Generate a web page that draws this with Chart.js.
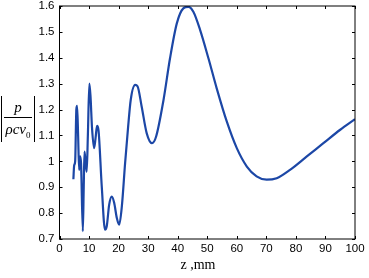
<!DOCTYPE html>
<html>
<head>
<meta charset="utf-8">
<script src="https://cdn.jsdelivr.net/npm/chart.js@4/dist/chart.umd.min.js"></script>
<style>
  body { margin: 0; background: #fff; }
  #wrap { position: relative; width: 369px; height: 278px; }
  #ylab { position: absolute; left: 1px; top: 96px; width: 32px; height: 46px;
          border-left: 1.2px solid #000; border-right: 1.2px solid #000;
          font-family: "Liberation Serif", serif; font-style: italic; font-size: 15px;
          text-align: center; color: #000; }
  #ylab .num { display: block; height: 21px; line-height: 22px; border-bottom: 1px solid #000; margin: 0 2px; }
  #ylab .den { display: block; line-height: 22px; white-space: nowrap; }
  #ylab sub { font-size: 9px; font-style: normal; }
  #xlab { position: absolute; left: 178px; top: 257px; width: 40px; text-align: center;
          font-family: "Liberation Serif", serif; font-size: 14px; color: #000; white-space: nowrap; }
</style>
</head>
<body>
<div id="wrap">
  <canvas id="myChart" width="369" height="278"></canvas>
  <div id="ylab"><span class="num">p</span><span class="den">ρcv<sub>0</sub></span></div>
  <div id="xlab">z ,mm</div>
</div>
<script>
const zValues = [4.7, 4.96, 5.3, 5.7, 5.95, 6.3, 6.65, 6.99, 7.3, 7.9, 8.2, 8.46, 8.8, 9.2, 9.6, 10.1, 10.5, 11.0, 11.7, 12.2, 12.7, 13.2, 14.3, 15.4, 16.0, 16.8, 17.7, 18.5, 19.4, 20.2, 21.1, 22.2, 23.2, 24.1, 25.6, 26.4, 27.8, 29.5, 31.3, 32.7, 35.2, 37.4, 39.7, 41.9, 43.6, 45.3, 47.6, 50.4, 53.2, 56.6, 60, 63.4, 66.7, 70.1, 73.5, 78, 83.7, 89.3, 95, 100];
const pressure = [0.931, 0.984, 1.0, 1.2, 1.214, 1.1, 0.967, 1.019, 0.99, 0.73, 0.9, 1.038, 1.0, 0.96, 1.1, 1.3, 1.25, 1.13, 1.051, 1.09, 1.137, 1.12, 0.903, 0.736, 0.75, 0.832, 0.864, 0.84, 0.781, 0.755, 0.826, 0.993, 1.13, 1.237, 1.295, 1.29, 1.212, 1.109, 1.07, 1.096, 1.237, 1.398, 1.533, 1.591, 1.597, 1.578, 1.507, 1.398, 1.282, 1.154, 1.051, 0.98, 0.942, 0.929, 0.935, 0.967, 1.019, 1.07, 1.122, 1.163];
const xTicks = [0, 10, 20, 30, 40, 50, 60, 70, 80, 90, 100];
const yTicks = [0.7, 0.8, 0.9, 1.0, 1.1, 1.2, 1.3, 1.4, 1.5, 1.6];

const points = zValues.map((z, i) => ({ x: z, y: pressure[i] }));

// box and inward tick marks, matlab style
const boxTicks = {
  id: 'boxTicks',
  afterDraw(chart) {
    const c = chart.ctx, a = chart.chartArea;
    const xs = chart.scales.x, ys = chart.scales.y;
    c.save();
    c.strokeStyle = '#000';
    c.lineWidth = 1;
    c.strokeRect(a.left, a.top, a.right - a.left, a.bottom - a.top);
    xTicks.forEach(t => {
      const px = Math.round(xs.getPixelForValue(t)) + 0.5;
      c.beginPath();
      c.moveTo(px, a.bottom); c.lineTo(px, a.bottom - 3);
      c.moveTo(px, a.top); c.lineTo(px, a.top + 3);
      c.stroke();
    });
    yTicks.forEach(t => {
      const py = Math.round(ys.getPixelForValue(t)) + 0.5;
      c.beginPath();
      c.moveTo(a.left, py); c.lineTo(a.left + 3, py);
      c.moveTo(a.right, py); c.lineTo(a.right - 3, py);
      c.stroke();
    });
    c.restore();
  }
};

const tickFont = { family: 'Liberation Sans, Arial, sans-serif', size: 11.5 };

new Chart(document.getElementById('myChart'), {
  type: 'line',
  data: {
    datasets: [{
      data: points,
      borderColor: '#1c47a6',
      borderWidth: 2.2,
      pointRadius: 0,
      tension: 0.4,
      cubicInterpolationMode: 'monotone',
      fill: false
    }]
  },
  options: {
    responsive: false,
    animation: false,
    layout: { padding: { left: 0, top: 6, right: 14, bottom: 0 } },
    plugins: { legend: { display: false }, tooltip: { enabled: false } },
    scales: {
      x: {
        type: 'linear', min: 0, max: 100,
        afterBuildTicks: s => { s.ticks = xTicks.map(v => ({ value: v })); },
        afterFit: s => { s.height = 39; s.paddingLeft = 0; s.paddingRight = 0; },
        grid: { display: false, drawTicks: false },
        border: { display: false },
        ticks: { color: '#000', font: tickFont, padding: 3, maxRotation: 0 }
      },
      y: {
        min: 0.7, max: 1.6,
        afterBuildTicks: s => { s.ticks = yTicks.map(v => ({ value: v })); },
        afterFit: s => { s.width = 59.5; s.paddingTop = 0; s.paddingBottom = 0; },
        grid: { display: false, drawTicks: false },
        border: { display: false },
        ticks: { color: '#000', font: tickFont, padding: 5, callback: v => String(Math.round(v * 10) / 10) }
      }
    }
  },
  plugins: [boxTicks]
});
</script>
</body>
</html>
